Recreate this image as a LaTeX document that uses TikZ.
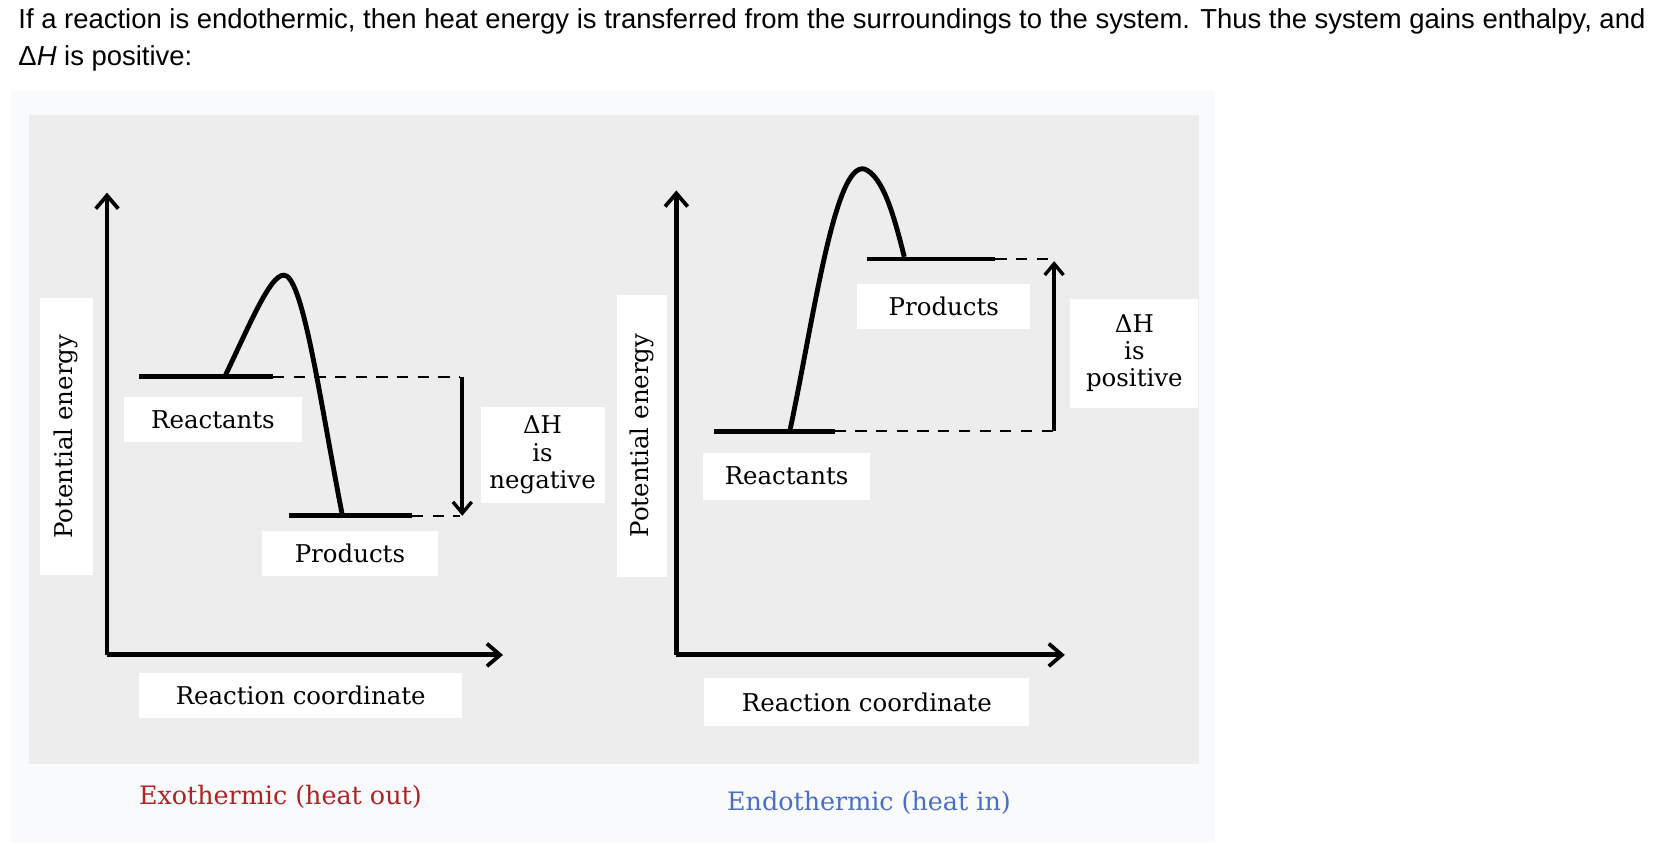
\documentclass[tikz,border=0pt]{standalone}
\usepackage{fontspec}
\setmainfont{DejaVu Serif}
\newfontfamily\headfont{Liberation Sans}
\usetikzlibrary{arrows.meta}
\definecolor{panel}{HTML}{F8FAFC}
\definecolor{photo}{HTML}{EDEDED}
\definecolor{exored}{HTML}{B22222}
\definecolor{endoblue}{HTML}{4A6FC9}
\tikzset{
  axis/.style={line width=2.6pt, -{Straight Barb[length=7pt,width=12pt,line width=2pt]}},
  level/.style={line width=2.6pt},
  hump/.style={line width=2.6pt},
  guide/.style={line width=1pt, dashed, dash pattern=on 6pt off 5pt},
  deltaarrow/.style={line width=2.2pt, -{Straight Barb[length=6pt,width=10pt,line width=1.8pt]}},
  label/.style={fill=white, inner sep=0pt, align=center, font=\fontsize{13}{14.5}\selectfont},
}
\begin{document}
\begin{tikzpicture}[x=0.02cm,y=-0.02cm]
  \useasboundingbox (0,0) rectangle (1568,787);
  \fill[white] (0,0) rectangle (1568,787);
  \node[anchor=west, font=\headfont\fontsize{14.6}{16}\selectfont] (intro1) at (11,20)
    {If a reaction is endothermic, then heat energy is transferred from the surroundings to the system. Thus the system gains enthalpy, and};
  \node[anchor=west, font=\headfont\fontsize{14.6}{16}\selectfont] (intro2) at (11,55)
    {Δ\textit{H} is positive:};
  \fill[panel] (10,85) rectangle (1135,787);
  \fill[photo] (27,107) rectangle (1120,714);

  % exothermic
  \coordinate (o1) at (100,612);
  \coordinate (ytop1) at (100,180);
  \coordinate (xend1) at (470,612);
  \draw[axis] (o1) -- (ytop1);
  \draw[axis] (o1) -- (xend1);
  \draw[level] (130,352) -- (255,352);
  \draw[level] (270,482) -- (385,482);
  \draw[hump] (210,352) .. controls (235,300) and (255,250) .. (268,258)
    .. controls (285,270) and (300,380) .. (320,482);
  \draw[guide] (255,352) -- (430,352);
  \draw[guide] (385,482) -- (430,482);
  \draw[deltaarrow] (432,352) -- (432,482);
  \node[label, minimum width=147pt, minimum height=28pt, rotate=90] (pe1) at (62,408) {Potential energy};
  \node[label, minimum width=95pt, minimum height=24pt] (react1) at (199,392) {Reactants};
  \node[label, minimum width=94pt, minimum height=24pt] (prod1) at (327,517) {Products};
  \node[label, minimum width=66pt, minimum height=51pt] (dh1) at (507,425) {ΔH\\is\\negative};
  \node[label, minimum width=172pt, minimum height=24pt] (rc1) at (281,650) {Reaction coordinate};
  \node[font=\fontsize{13.5}{15}\selectfont, text=exored] (exo) at (262,745) {Exothermic (heat out)};

  % endothermic
  \coordinate (o2) at (632,612);
  \coordinate (ytop2) at (632,178);
  \coordinate (xend2) at (995,612);
  \draw[axis] (o2) -- (ytop2);
  \draw[axis] (o2) -- (xend2);
  \draw[level] (667,403) -- (780,403);
  \draw[level] (810,242) -- (930,242);
  \draw[hump] (738,403) .. controls (760,300) and (780,150) .. (808,158)
    .. controls (825,165) and (835,200) .. (845,240);
  \draw[guide] (780,403) -- (985,403);
  \draw[guide] (930,242) -- (985,242);
  \draw[deltaarrow] (985,403) -- (985,244);
  \node[label, minimum width=150pt, minimum height=27pt, rotate=90] (pe2) at (600,407) {Potential energy};
  \node[label, minimum width=89pt, minimum height=25pt] (react2) at (735,445) {Reactants};
  \node[label, minimum width=92pt, minimum height=24pt] (prod2) at (882,286) {Products};
  \node[label, minimum width=68pt, minimum height=58pt] (dh2) at (1060,330) {ΔH\\is\\positive};
  \node[label, minimum width=173pt, minimum height=26pt] (rc2) at (810,656) {Reaction coordinate};
  \node[font=\fontsize{13.5}{15}\selectfont, text=endoblue] (endo) at (812,750) {Endothermic (heat in)};
\end{tikzpicture}
\end{document}
